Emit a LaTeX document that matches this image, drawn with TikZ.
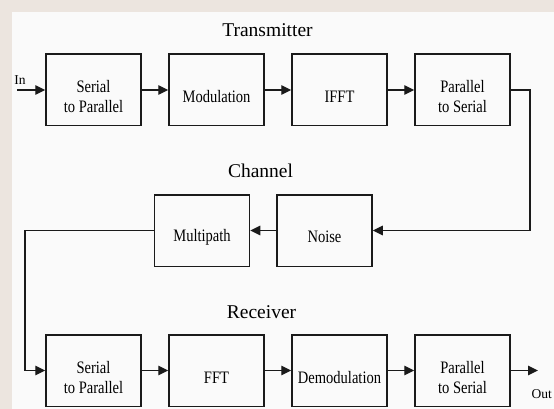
\documentclass[tikz,border=0pt]{standalone}
\usepackage{fontspec}
\setmainfont{Liberation Serif}
\newfontfamily\boxfont[FakeStretch=0.83]{Liberation Serif}
\usetikzlibrary{arrows.meta}
\definecolor{bgout}{HTML}{ECE5DF}
\definecolor{panel}{HTML}{FAFAFA}
\definecolor{ink}{HTML}{1A1A1A}
\begin{document}
\begin{tikzpicture}[x=1pt,y=-1pt,
  blk/.style={draw=ink, line width=1.5pt, minimum width=95pt, minimum height=71.5pt, inner sep=0pt},
  lbl/.style={font=\boxfont\fontsize{17.5}{20}\selectfont, align=center, inner sep=0pt, text=black},
  ttl/.style={font=\fontsize{19.5}{22}\selectfont, anchor=base, inner sep=0pt, text=black},
  small/.style={font=\fontsize{13.5}{15}\selectfont, anchor=base, inner sep=0pt, text=black},
  conn/.style={draw=ink, line width=1.4pt},
  arr/.style={conn, -{Triangle[length=10pt,width=9.5pt]}}
]
\fill[bgout] (0,0) rectangle (554,409);
\fill[panel] (12,12) rectangle (554,409);
\useasboundingbox (0,0) rectangle (554,409);

% titles
\node[ttl] (ttx) at (267.5,37) {Transmitter};
\node[ttl] (tch) at (260.5,177) {Channel};
\node[ttl] (trx) at (261.5,318) {Receiver};

% transmitter row
\node[blk] (t1) at (93.5,90) {};
\node[blk] (t2) at (216.5,90) {};
\node[blk] (t3) at (339.5,90) {};
\node[blk] (t4) at (462.5,90) {};
\node[lbl, yshift=-7pt] (t1l) at (t1) {Serial\\to Parallel};
\node[lbl, yshift=-7pt] (t2l) at (t2) {Modulation};
\node[lbl, yshift=-7pt] (t3l) at (t3) {IFFT};
\node[lbl, yshift=-7pt] (t4l) at (t4) {Parallel\\to Serial};

% channel row
\node[blk] (c1) at (202,230.5) {};
\node[blk] (c2) at (324.5,230.5) {};
\node[lbl, yshift=-7pt] (c1l) at (c1) {Multipath};
\node[lbl, yshift=-6pt] (c2l) at (c2) {Noise};

% receiver row
\node[blk] (r1) at (93.5,370.5) {};
\node[blk] (r2) at (216.5,370.5) {};
\node[blk] (r3) at (339.5,370.5) {};
\node[blk] (r4) at (462.5,370.5) {};
\node[lbl, yshift=-7pt] (r1l) at (r1) {Serial\\to Parallel};
\node[lbl, yshift=-7pt] (r2l) at (r2) {FFT};
\node[lbl, yshift=-7pt] (r3l) at (r3) {Demodulation};
\node[lbl, yshift=-7pt] (r4l) at (r4) {Parallel\\to Serial};

% in / out
\coordinate (inc) at (17,90);
\node[small] (inl) at (20,85) {In};
\coordinate (outc) at (538,370.5);
\node[small, anchor=base west] (outl) at (531.5,398) {Out};

\coordinate (rc) at (530,90);
\coordinate (lc) at (25,230.5);

% connectors
\draw[arr] (inc) -- (t1);
\draw[arr] (t1) -- (t2);
\draw[arr] (t2) -- (t3);
\draw[arr] (t3) -- (t4);
\draw[arr] (t4.east) -- (rc) |- (c2.east);
\draw[arr] (c2) -- (c1);
\draw[arr] (c1.west) -- (lc) |- (r1.west);
\draw[arr] (r1) -- (r2);
\draw[arr] (r2) -- (r3);
\draw[arr] (r3) -- (r4);
\draw[arr] (r4.east) -- (outc);
\end{tikzpicture}
\end{document}
